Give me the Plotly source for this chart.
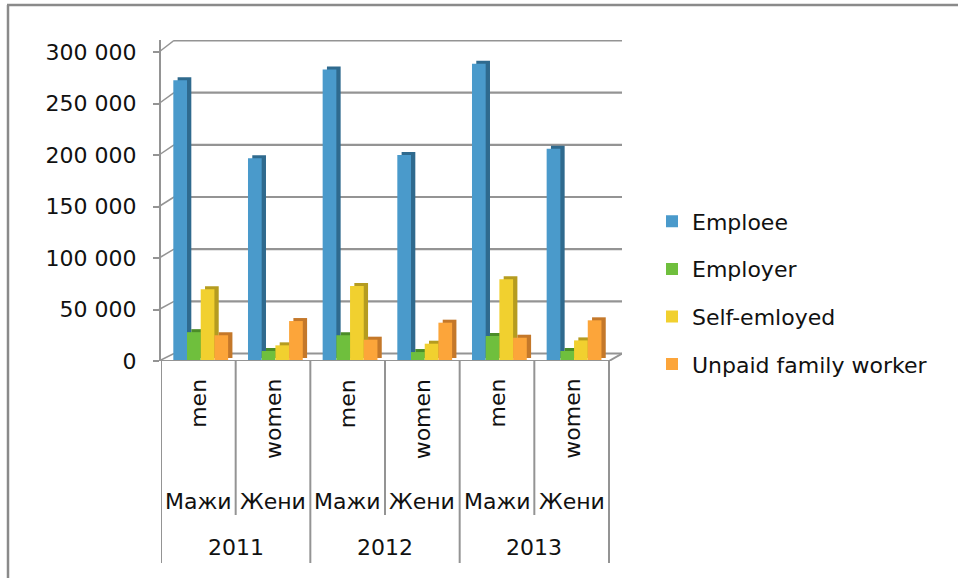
import plotly.graph_objects as go

# ---------------- data ----------------
years = ["2011", "2012", "2013"]
sex_en = ["men", "women"]
sex_mk = ["Мажи", "Жени"]
categories = [f"{y} {s}" for y in years for s in sex_en]

series_names = ["Emploee", "Employer", "Self-emloyed", "Unpaid family worker"]
employee = [272500, 196800, 283000, 200000, 288600, 206000]
employer = [28000, 9700, 25000, 8700, 24300, 9700]
self_employed = [69600, 15200, 72800, 16800, 79300, 20000]
unpaid = [25000, 38800, 20700, 37200, 22600, 39500]
y_ticks = [0, 50000, 100000, 150000, 200000, 250000, 300000]
y_tick_labels = ["0", "50 000", "100 000", "150 000", "200 000", "250 000", "300 000"]

series_values = [employee, employer, self_employed, unpaid]
front_colors = ["#4a9acb", "#6fbf3d", "#f1d02f", "#fca53a"]
side_colors = ["#2f6a8e", "#4b8c28", "#b59c20", "#c4782a"]

# ---------------- geometry (pixels) ----------------
W, H = 958, 578
L, R = 161, 622          # plot area left/right
T, B = 40, 361           # plot area top/bottom
Y300 = 52                # pixel of top tick on front axis
y_max = y_ticks[-1] * (B - T) / (B - Y300)
upp = y_max / (B - T)    # data units per pixel
cat_px = (609 - L) / len(categories)
x_max = len(categories) - 0.5 + (R - 609) / cat_px


def px_x(x):
    return (x - L) / (R - L)


def px_y(y):
    return (B - y) / (B - T)


bar_w = 13.7 / cat_px
start = -0.335
depth_dx = 4.3 / cat_px
depth_dy = 3 * upp

FONT = "DejaVu Sans"
TXT = "#111111"
GRID = "#949494"

fig = go.Figure()

# depth (side/top) faces first
for k, (name, vals) in enumerate(zip(series_names, series_values)):
    fig.add_trace(go.Bar(
        x=categories, y=vals, base=depth_dy,
        offset=start + k * bar_w + depth_dx, width=bar_w,
        marker=dict(color=side_colors[k], line=dict(width=0)),
        showlegend=False, legendgroup=name, hoverinfo="skip",
    ))
# front faces
for k, (name, vals) in enumerate(zip(series_names, series_values)):
    fig.add_trace(go.Bar(
        x=categories, y=vals, name=name,
        offset=start + k * bar_w, width=bar_w,
        marker=dict(color=front_colors[k], line=dict(width=0)),
        legendgroup=name,
    ))

shapes = []


def back_off(v):
    return 7.5 + 4.0 * v / y_ticks[-1]


# back-wall gridlines and diagonal connectors
for v in y_ticks:
    shapes.append(dict(type="line", xref="paper", yref="y", ysizemode="pixel", yanchor=v,
                       x0=px_x(174), x1=1, y0=back_off(v), y1=back_off(v),
                       line=dict(color=GRID, width=2.2), layer="below"))
    shapes.append(dict(type="line", xref="paper", yref="y", ysizemode="pixel", yanchor=v,
                       x0=px_x(159), x1=px_x(174), y0=0, y1=back_off(v),
                       line=dict(color=GRID, width=1.5), layer="below"))
# front floor edge
shapes.append(dict(type="line", xref="x", yref="y", x0=-0.5 - 8 / cat_px, x1=len(categories) - 0.5,
                   y0=0, y1=0, line=dict(color=GRID, width=2), layer="above"))
shapes.append(dict(type="line", xref="x", yref="y", ysizemode="pixel", yanchor=0,
                   x0=len(categories) - 0.5, x1=x_max, y0=0, y1=back_off(0),
                   line=dict(color=GRID, width=2), layer="above"))
# category separators
for i in range(len(categories) + 1):
    outer = (i % 2 == 0)
    shapes.append(dict(type="line", xref="x", yref="paper", x0=i - 0.5, x1=i - 0.5,
                       y0=px_y(361), y1=px_y(563 if outer else 515),
                       line=dict(color=GRID, width=2)))
# outer chart border (top + left)
shapes.append(dict(type="line", xref="paper", yref="paper", x0=px_x(7), x1=px_x(W),
                   y0=px_y(5), y1=px_y(5), line=dict(color="#8a8a8a", width=2.5)))
shapes.append(dict(type="line", xref="paper", yref="paper", x0=px_x(8), x1=px_x(8),
                   y0=px_y(5), y1=px_y(H), line=dict(color="#8a8a8a", width=2.5)))

annotations = []
for i, cat in enumerate(categories):
    annotations.append(dict(x=i, y=px_y(377), xref="x", yref="paper", text=sex_en[i % 2],
                            textangle=-90, showarrow=False, yanchor="top", xanchor="center",
                            font=dict(family=FONT, size=22, color=TXT)))
    annotations.append(dict(x=i, y=px_y(501), xref="x", yref="paper", text=sex_mk[i % 2],
                            showarrow=False, yanchor="middle", xanchor="center",
                            font=dict(family=FONT, size=22, color=TXT)))
for j, yr in enumerate(years):
    annotations.append(dict(x=2 * j + 0.5, y=px_y(547), xref="x", yref="paper", text=yr,
                            showarrow=False, yanchor="middle", xanchor="center",
                            font=dict(family=FONT, size=22, color=TXT)))

fig.update_layout(
    width=W, height=H,
    margin=dict(l=L, r=W - R, t=T, b=H - B, pad=0),
    paper_bgcolor="white", plot_bgcolor="white",
    barmode="overlay",
    font=dict(family=FONT, size=22, color=TXT),
    showlegend=True,
    legend=dict(x=px_x(652), xanchor="left", y=px_y(293), yanchor="middle",
                font=dict(family=FONT, size=22, color=TXT),
                traceorder="grouped", tracegroupgap=16, bgcolor="rgba(0,0,0,0)"),
    xaxis=dict(type="category", categoryarray=categories, range=[-0.5, x_max],
               showticklabels=False, showgrid=False, zeroline=False, showline=False, ticks=""),
    yaxis=dict(range=[0, y_max], tickvals=y_ticks, ticktext=y_tick_labels,
               showgrid=False, zeroline=False, showline=True, linecolor=GRID, linewidth=2,
               ticks="outside", ticklen=6, tickcolor=GRID, tickwidth=2,
               ticklabelstandoff=12,
               tickfont=dict(family=FONT, size=22, color=TXT)),
    shapes=shapes,
    annotations=annotations,
)

fig.write_html("out.html", config={"displayModeBar": False},
               post_script="document.body.style.margin='0px';document.body.style.overflow='hidden';")
